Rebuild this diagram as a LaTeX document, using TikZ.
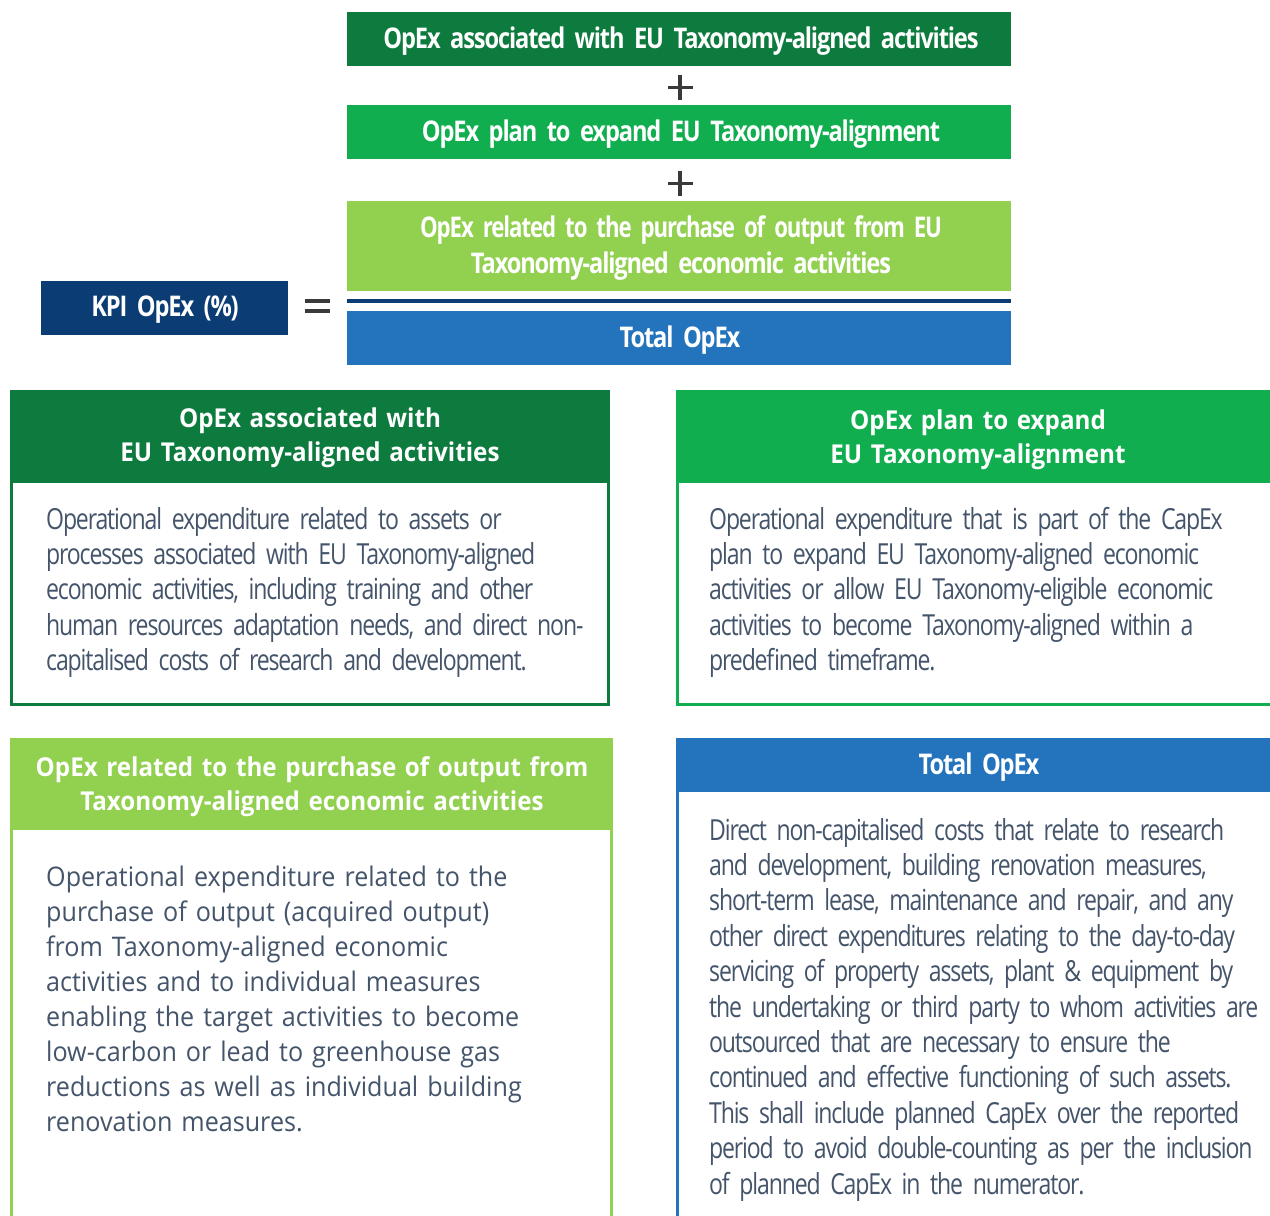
\documentclass[tikz,border=0pt]{standalone}
\usepackage{fontspec}
\setmainfont{Open Sans}
\newfontfamily\condf[FakeStretch=0.795, WordSpace=0.7, LetterSpace=-4]{Open Sans}
\newfontfamily\regf[FakeStretch=0.93]{Open Sans}
\newfontfamily\hcondf[FakeStretch=0.83, WordSpace=0.7, LetterSpace=-4]{Open Sans}
\definecolor{dkgreen}{HTML}{0C7B3D}
\definecolor{mdgreen}{HTML}{11AE4F}
\definecolor{ltgreen}{HTML}{92D050}
\definecolor{mdblue}{HTML}{2374BD}
\definecolor{navy}{HTML}{0C3C74}
\definecolor{bodygray}{HTML}{44546A}
\definecolor{signgray}{HTML}{3A3A3A}
\tikzset{
  panel/.style={draw=none, inner sep=0pt, outer sep=0pt, anchor=north west},
  toptext/.style={text=white, inner sep=0pt, anchor=base, align=center, text width=660pt, font=\hcondf\bfseries\fontsize{28.5}{36}\selectfont},
  headtext/.style={text=white, inner sep=0pt, anchor=base, align=center, text width=600pt, font=\regf\bfseries\fontsize{26}{34.5}\selectfont},
  bodytext/.style={text=bodygray, inner sep=0pt, anchor=base west, align=left, text width=600pt, font=\condf\fontsize{29}{35.4}\selectfont},
  bodyreg/.style={text=bodygray, inner sep=0pt, anchor=base west, align=left, text width=600pt, font=\regf\fontsize{27}{35}\selectfont},
  sign/.style={signgray, line width=3.6pt},
}
\begin{document}
\begin{tikzpicture}[x=1pt,y=-1pt]
\useasboundingbox[fill=white] (0,0) rectangle (1270,1216);
\clip (0,0) rectangle (1270,1216);
% ---------- formula ----------
\node[panel, fill=dkgreen, minimum width=664pt, minimum height=54pt] (b1) at (347,12) {};
\node[panel, fill=mdgreen, minimum width=664pt, minimum height=54pt] (b2) at (347,105) {};
\node[panel, fill=ltgreen, minimum width=664pt, minimum height=90pt] (b3) at (347,201) {};
\node[panel, fill=mdblue, minimum width=664pt, minimum height=54pt] (b4) at (347,311) {};
\node[panel, fill=navy, minimum width=247pt, minimum height=54pt] (kpi) at (41,281) {};
\node[panel, fill=navy, minimum width=664pt, minimum height=4pt] (frac) at (347,299) {};

\node[toptext] (t1) at (681,48) {OpEx associated with EU Taxonomy-aligned activities};
\node[toptext] (t2) at (681,141) {OpEx plan to expand EU Taxonomy-alignment};
\node[toptext] (t3) at (681,237) {\scalebox{0.94}[1]{OpEx related to the purchase of output from EU}\\Taxonomy-aligned economic activities};
\node[toptext] (t4) at (680,347) {Total OpEx};
\node[toptext, text width=240pt] (tk) at (165,316) {KPI OpEx (\%)};

\draw[sign] (667.5,87.5) -- (692.5,87.5);
\draw[sign] (680,75) -- (680,100);
\draw[sign] (667.5,183.5) -- (692.5,183.5);
\draw[sign] (680,171) -- (680,196);
\draw[sign, line width=4pt] (305,301) -- (330,301);
\draw[sign, line width=4pt] (305,311) -- (330,311);

% ---------- top-left panel ----------
\node[panel, draw=dkgreen, line width=2.6pt, minimum width=597.4pt, minimum height=313.4pt] (tlbox) at (11.3,391.3) {};
\node[panel, fill=dkgreen, minimum width=600pt, minimum height=93pt] (tlhead) at (10,390) {};
\node[headtext] (tlh) at (310,427) {OpEx associated with\\EU Taxonomy-aligned activities};
\node[bodytext] (tlb) at (46,529) {Operational expenditure related to assets or\\processes associated with EU Taxonomy-aligned\\economic activities, including training and other\\human resources adaptation needs, and direct non-\\capitalised costs of research and development.};

% ---------- top-right panel ----------
\node[panel, draw=mdgreen, line width=2.6pt, minimum width=640pt, minimum height=313.4pt] (trbox) at (677.3,391.3) {};
\node[panel, fill=mdgreen, minimum width=640pt, minimum height=93pt] (trhead) at (676,390) {};
\node[headtext] (trh) at (978,429) {OpEx plan to expand\\EU Taxonomy-alignment};
\node[bodytext] (trb) at (709,529) {Operational expenditure that is part of the CapEx\\plan to expand EU Taxonomy-aligned economic\\activities or allow EU Taxonomy-eligible economic\\activities to become Taxonomy-aligned within a\\predefined timeframe.};

% ---------- bottom-left panel ----------
\node[panel, draw=ltgreen, line width=2.6pt, minimum width=600.4pt, minimum height=600pt] (blbox) at (11.3,739.3) {};
\node[panel, fill=ltgreen, minimum width=603pt, minimum height=92pt] (blhead) at (10,738) {};
\node[headtext] (blh) at (312,776) {OpEx related to the purchase of output from\\Taxonomy-aligned economic activities};
\node[bodyreg] (blb) at (46,886) {Operational expenditure related to the\\purchase of output (acquired output)\\from Taxonomy-aligned economic\\activities and to individual measures\\enabling the target activities to become\\low-carbon or lead to greenhouse gas\\reductions as well as individual building\\renovation measures.};

% ---------- bottom-right panel ----------
\node[panel, draw=mdblue, line width=2.6pt, minimum width=640pt, minimum height=600pt] (brbox) at (677.3,739.3) {};
\node[panel, fill=mdblue, minimum width=640pt, minimum height=54pt] (brhead) at (676,738) {};
\node[toptext] (brh) at (979,774) {Total OpEx};
\node[bodytext] (brb) at (709,840) {Direct non-capitalised costs that relate to research\\and development, building renovation measures,\\short-term lease, maintenance and repair, and any\\other direct expenditures relating to the day-to-day\\servicing of property assets, plant \& equipment by\\the undertaking or third party to whom activities are\\outsourced that are necessary to ensure the\\continued and effective functioning of such assets.\\This shall include planned CapEx over the reported\\period to avoid double-counting as per the inclusion\\of planned CapEx in the numerator.};
\end{tikzpicture}
\end{document}
